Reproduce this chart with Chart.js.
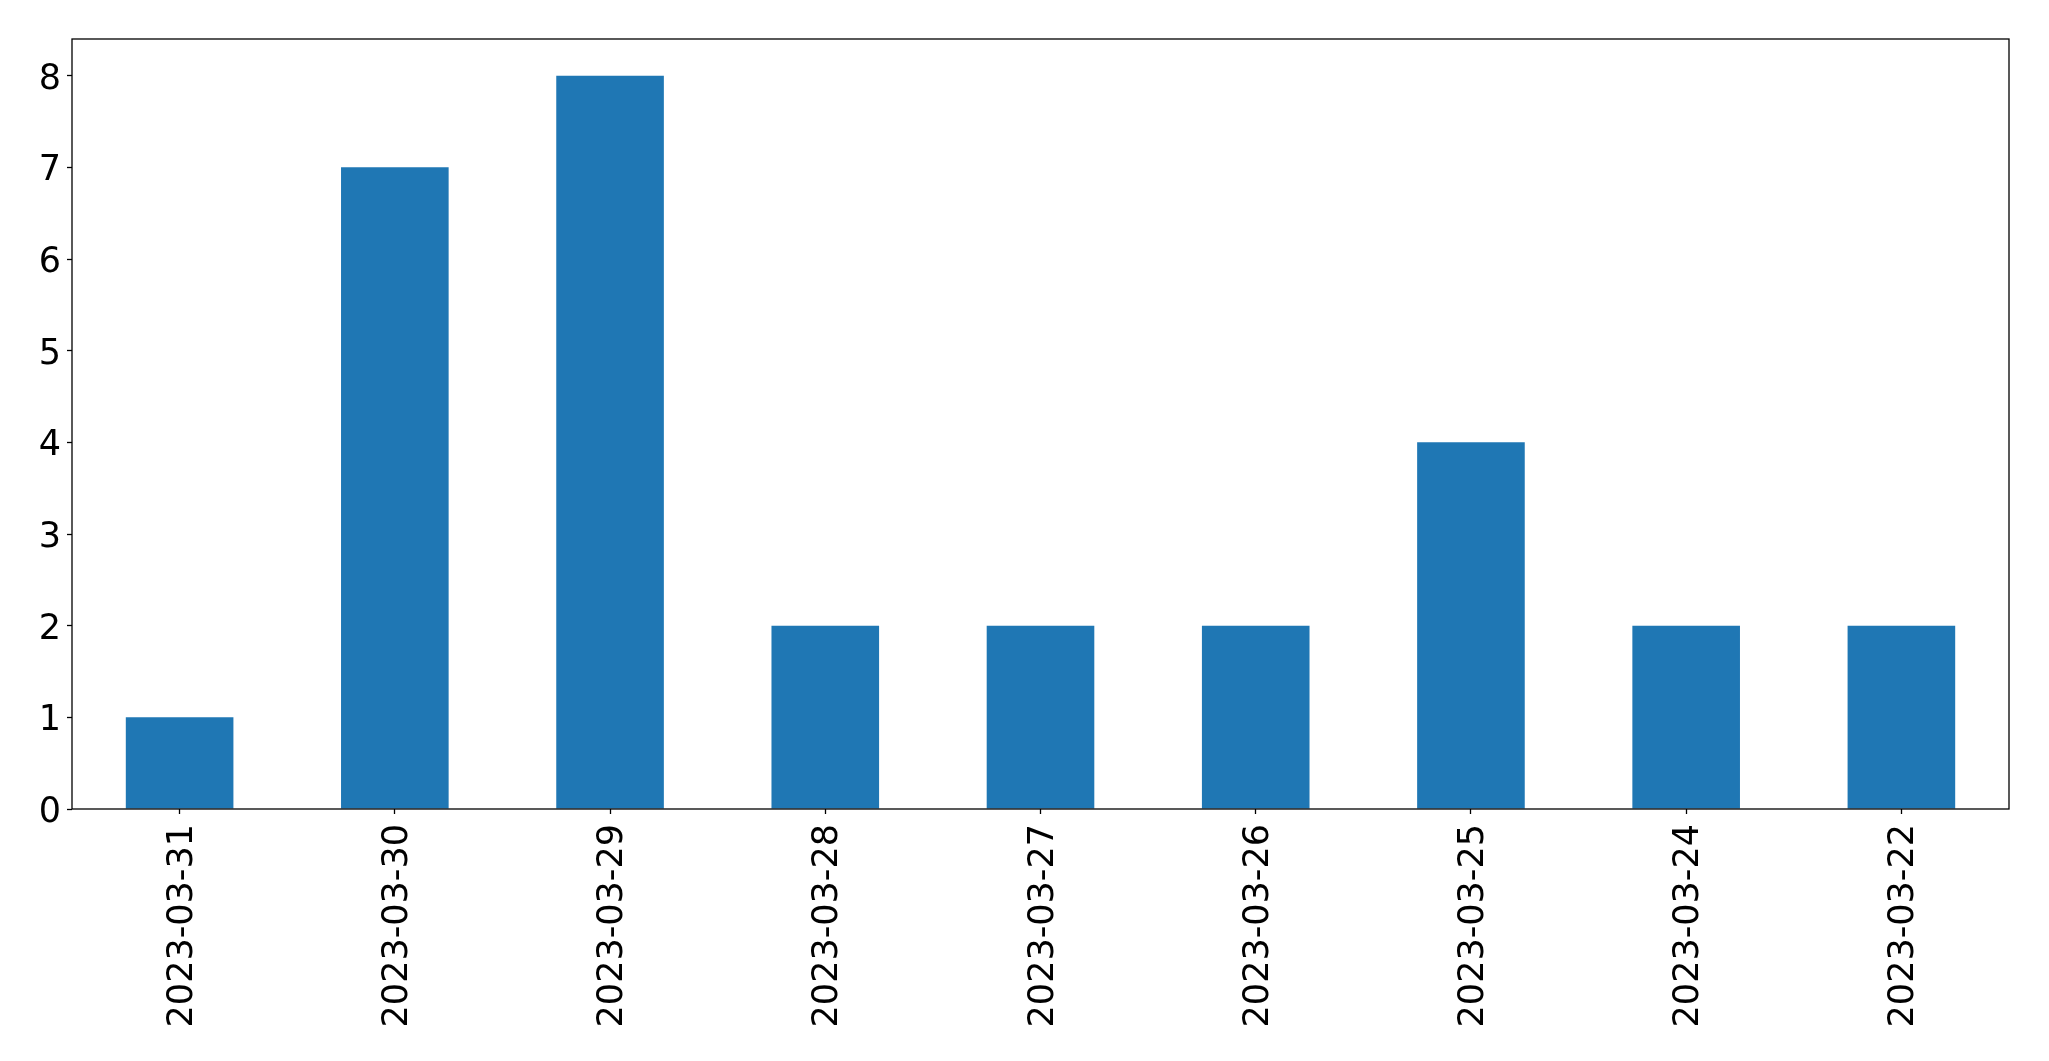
<!DOCTYPE html>
<html>
<head>
<meta charset="utf-8">
<script src="https://cdn.jsdelivr.net/npm/chart.js@4/dist/chart.umd.min.js"></script>
<style>
html,body{margin:0;padding:0;background:#fff;}
#wrap{width:2049px;height:1061px;position:relative;}
</style>
</head>
<body>
<div id="wrap"><canvas id="c" width="2049" height="1061"></canvas></div>
<script>
const categories = ["2023-03-31","2023-03-30","2023-03-29","2023-03-28","2023-03-27","2023-03-26","2023-03-25","2023-03-24","2023-03-22"];
const counts = [1,7,8,2,2,2,4,2,2];
const yTicks = [0,1,2,3,4,5,6,7,8];

const FONT = {family: "'DejaVu Sans'", size: 35};

const boxPlugin = {
  id: 'box',
  afterDraw(chart) {
    const a = chart.chartArea, ctx = chart.ctx;
    ctx.save();
    ctx.strokeStyle = '#000';
    ctx.lineWidth = 1.3;
    ctx.strokeRect(a.left, a.top, a.right - a.left, a.bottom - a.top);
    ctx.restore();
  }
};

new Chart(document.getElementById('c'), {
  type: 'bar',
  data: {
    labels: categories,
    datasets: [{
      data: counts,
      backgroundColor: '#1f77b4',
      borderWidth: 0,
      categoryPercentage: 0.5,
      barPercentage: 1.0
    }]
  },
  options: {
    responsive: false,
    animation: false,
    devicePixelRatio: 1,
    layout: {padding: {top: 39, right: 40, left: 0, bottom: 0}},
    plugins: {legend: {display: false}, tooltip: {enabled: false}},
    scales: {
      x: {
        grid: {display: true, offset: false, drawOnChartArea: false, drawTicks: true, tickLength: 5, tickColor: '#000', tickWidth: 1.3},
        border: {display: false},
        ticks: {color: '#000', font: FONT, minRotation: 90, maxRotation: 90, padding: 10, labelOffset: 3, autoSkip: false},
        afterFit(s) { s.height = 1061 - 809; }
      },
      y: {
        min: 0,
        max: 8.4,
        grid: {display: true, drawOnChartArea: false, drawTicks: true, tickLength: 5, tickColor: '#000', tickWidth: 1.3},
        border: {display: false},
        afterBuildTicks(s) { s.ticks = yTicks.map(v => ({value: v})); },
        ticks: {color: '#000', font: FONT, padding: 6, labelOffset: 4},
        afterFit(s) { s.width = 72; }
      }
    }
  },
  plugins: [boxPlugin]
});
</script>
</body>
</html>
